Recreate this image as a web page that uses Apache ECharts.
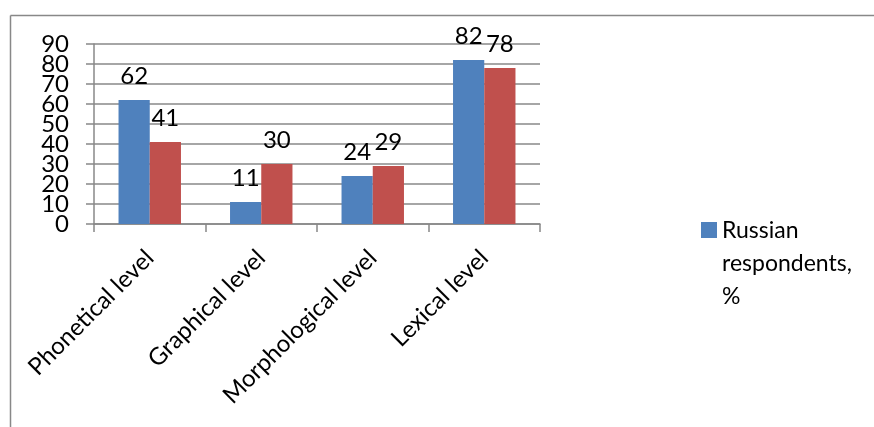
<!DOCTYPE html>
<html><head><meta charset="utf-8">
<script src="https://cdn.jsdelivr.net/npm/echarts@6/dist/echarts.min.js"></script>
<style>html,body{margin:0;padding:0;background:#fff}#c{width:874px;height:427px}</style>
</head><body><div id="c"></div>
<script>
var categories = ['Phonetical level', 'Graphical level', 'Morphological level', 'Lexical level'];
var russian = [62, 11, 24, 82];
var foreign = [41, 30, 29, 78];
var yTicks = {min: 0, max: 90, interval: 10};

var chart = echarts.init(document.getElementById('c'));
var font = 'Lato';
var axisGray = '#888';
function labelAxis(keepEven) {
  return {
    type: 'value', min: yTicks.min, max: yTicks.max, interval: yTicks.interval, position: 'left',
    axisLine: {show: false}, axisTick: {show: false}, splitLine: {show: false},
    axisLabel: {
      color: '#000', fontFamily: font, fontSize: 24, margin: 25,
      showMinLabel: keepEven, showMaxLabel: !keepEven,
      formatter: function (v) { return ((v / yTicks.interval) % 2 === 0) === keepEven ? String(v) : ''; }
    }
  };
}
chart.setOption({
  animation: false,
  textStyle: {fontFamily: font},
  graphic: [
    {type: 'line', shape: {x1: 10.5, y1: 15.5, x2: 874, y2: 15.5}, style: {stroke: axisGray, lineWidth: 1.5}},
    {type: 'line', shape: {x1: 10.5, y1: 15.5, x2: 10.5, y2: 427}, style: {stroke: axisGray, lineWidth: 1.5}}
  ],
  grid: {left: 94, right: 334, top: 44, bottom: 203},
  legend: {
    data: [{name: 'Russian respondents, %'}],
    left: 696, top: 209, orient: 'vertical',
    itemWidth: 16, itemHeight: 99, itemGap: 5,
    icon: 'path://M0,8h16v16h-16zM16,99M0,0',
    formatter: function () { return 'Russian\nrespondents,\n%'; },
    textStyle: {fontFamily: font, fontSize: 23, color: '#000', lineHeight: 33}
  },
  xAxis: {
    type: 'category', data: categories,
    axisLine: {lineStyle: {color: axisGray, width: 1.5}},
    axisTick: {show: true, alignWithLabel: false, length: 8, lineStyle: {color: axisGray, width: 1.5}},
    axisLabel: {rotate: 45, interval: 0, fontSize: 24, color: '#000', fontFamily: font, margin: 30}
  },
  yAxis: [
    {
      type: 'value', min: yTicks.min, max: yTicks.max, interval: yTicks.interval, position: 'left',
      axisLine: {show: true, lineStyle: {color: axisGray, width: 1.5}},
      axisTick: {show: true, length: 8, lineStyle: {color: axisGray, width: 1.5}},
      splitLine: {lineStyle: {color: axisGray, width: 1.5}},
      axisLabel: {show: false}
    },
    labelAxis(true),
    labelAxis(false)
  ],
  series: [
    {name: 'Russian respondents, %', type: 'bar', data: russian, barGap: '0%', barCategoryGap: '44%',
     itemStyle: {color: '#4f81bd'},
     label: {show: true, position: 'top', distance: 12, fontSize: 24, color: '#000', fontFamily: font}},
    {name: 'Foreign respondents, %', type: 'bar', data: foreign,
     itemStyle: {color: '#c0504d'},
     label: {show: true, position: 'top', distance: 12, fontSize: 24, color: '#000', fontFamily: font}}
  ]
});
</script></body></html>
